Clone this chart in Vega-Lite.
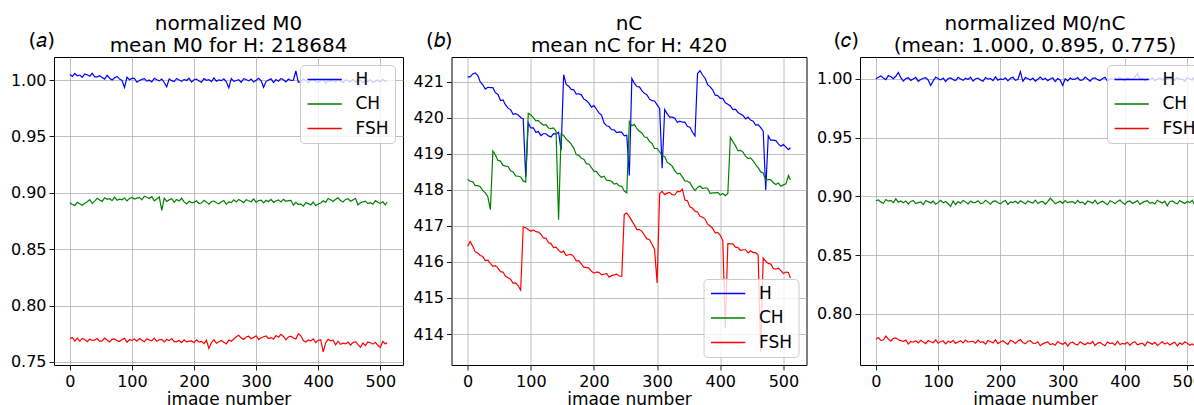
{
"$schema":"https://vega.github.io/schema/vega-lite/v6.json",
"padding":{"left":9,"top":13,"right":0,"bottom":0},
"background":"white",
"spacing":7.5,
"config":{
"font":"DejaVu Sans",
"view":{"stroke":"#000000","strokeWidth":1},
"axis":{"grid":true,"gridColor":"#b0b0b0","gridWidth":0.8,"domain":false,"ticks":true,"tickColor":"#000000","tickWidth":0.9,"tickSize":5,"labelFontSize":16,"labelColor":"#000000","labelPadding":3,"labelFlush":false,"labelOverlap":false,"titleFontSize":17,"titleFontWeight":"normal","titleColor":"#000000","titlePadding":2},
"legend":{"padding":6,"offset":8,"fillColor":"rgba(255,255,255,0.8)","strokeColor":"#cccccc","strokeWidth":1,"cornerRadius":4,"symbolType":"M-1,0H3.9","symbolSize":196,"symbolStrokeWidth":1.5,"labelFontSize":17,"labelColor":"#000000","labelOffset":32.5,"rowPadding":6.5,"labelLimit":0},
"title":{"fontSize":20,"fontWeight":"normal","lineHeight":22,"anchor":"middle","frame":"group","offset":-26,"color":"#000000"}
},
"resolve":{"scale":{"color":"independent"},"legend":{"color":"independent"}},
"datasets":{
"a":[
{"x":0,"H":1.0048,"CH":0.8912,"FSH":0.7707},{"x":4,"H":1.0032,"CH":0.8896,"FSH":0.7717},{"x":8,"H":1.0058,"CH":0.8888,"FSH":0.7685},{"x":12,"H":1.0038,"CH":0.8916,"FSH":0.7711},{"x":16,"H":1.0044,"CH":0.8902,"FSH":0.7685},{"x":20,"H":1.0024,"CH":0.8890,"FSH":0.7709},{"x":24,"H":1.0054,"CH":0.8908,"FSH":0.7697},{"x":28,"H":1.0046,"CH":0.8920,"FSH":0.7679},{"x":32,"H":1.0034,"CH":0.8940,"FSH":0.7703},{"x":36,"H":1.0060,"CH":0.8906,"FSH":0.7691},
{"x":40,"H":1.0028,"CH":0.8926,"FSH":0.7693},{"x":44,"H":1.0028,"CH":0.8952,"FSH":0.7707},{"x":48,"H":1.0038,"CH":0.8936,"FSH":0.7683},{"x":52,"H":1.0022,"CH":0.8924,"FSH":0.7687},{"x":56,"H":1.0008,"CH":0.8956,"FSH":0.7711},{"x":60,"H":1.0042,"CH":0.8942,"FSH":0.7695},{"x":64,"H":1.0016,"CH":0.8948,"FSH":0.7677},{"x":68,"H":1.0000,"CH":0.8930,"FSH":0.7701},{"x":72,"H":1.0020,"CH":0.8962,"FSH":0.7705},{"x":76,"H":1.0032,"CH":0.8934,"FSH":0.7689},
{"x":80,"H":1.0008,"CH":0.8944,"FSH":0.7681},{"x":84,"H":0.9996,"CH":0.8938,"FSH":0.7699},{"x":88,"H":0.9935,"CH":0.8954,"FSH":0.7709},{"x":92,"H":1.0024,"CH":0.8928,"FSH":0.7675},{"x":96,"H":1.0002,"CH":0.8950,"FSH":0.7697},{"x":100,"H":1.0014,"CH":0.8958,"FSH":0.7691},{"x":104,"H":1.0014,"CH":0.8945,"FSH":0.7703},{"x":108,"H":0.9980,"CH":0.8953,"FSH":0.7685},{"x":112,"H":0.9996,"CH":0.8959,"FSH":0.7707},{"x":116,"H":1.0006,"CH":0.8937,"FSH":0.7693},
{"x":120,"H":1.0012,"CH":0.8969,"FSH":0.7679},{"x":124,"H":0.9990,"CH":0.8961,"FSH":0.7705},{"x":128,"H":0.9998,"CH":0.8949,"FSH":0.7695},{"x":132,"H":0.9984,"CH":0.8965,"FSH":0.7687},{"x":136,"H":1.0016,"CH":0.8929,"FSH":0.7711},{"x":140,"H":1.0002,"CH":0.8945,"FSH":0.7683},{"x":144,"H":0.9992,"CH":0.8963,"FSH":0.7697},{"x":148,"H":1.0008,"CH":0.8845,"FSH":0.7701},{"x":152,"H":0.9978,"CH":0.8953,"FSH":0.7677},{"x":156,"H":0.9940,"CH":0.8923,"FSH":0.7699},
{"x":160,"H":1.0010,"CH":0.8937,"FSH":0.7689},{"x":164,"H":0.9994,"CH":0.8947,"FSH":0.7707},{"x":168,"H":0.9986,"CH":0.8915,"FSH":0.7681},{"x":172,"H":1.0014,"CH":0.8941,"FSH":0.7680},{"x":176,"H":1.0000,"CH":0.8927,"FSH":0.7690},{"x":180,"H":0.9988,"CH":0.8951,"FSH":0.7672},{"x":184,"H":1.0006,"CH":0.8919,"FSH":0.7696},{"x":188,"H":0.9996,"CH":0.8901,"FSH":0.7678},{"x":192,"H":1.0016,"CH":0.8925,"FSH":0.7684},{"x":196,"H":0.9982,"CH":0.8913,"FSH":0.7686},
{"x":200,"H":1.0002,"CH":0.8915,"FSH":0.7670},{"x":204,"H":1.0008,"CH":0.8929,"FSH":0.7696},{"x":208,"H":0.9992,"CH":0.8905,"FSH":0.7676},{"x":212,"H":0.9980,"CH":0.8909,"FSH":0.7682},{"x":216,"H":1.0012,"CH":0.8933,"FSH":0.7662},{"x":220,"H":0.9998,"CH":0.8917,"FSH":0.7692},{"x":224,"H":1.0004,"CH":0.8899,"FSH":0.7620},{"x":228,"H":0.9986,"CH":0.8923,"FSH":0.7672},{"x":232,"H":1.0018,"CH":0.8927,"FSH":0.7698},{"x":236,"H":0.9990,"CH":0.8911,"FSH":0.7666},
{"x":240,"H":1.0000,"CH":0.8903,"FSH":0.7680},{"x":244,"H":0.9994,"CH":0.8921,"FSH":0.7690},{"x":248,"H":1.0010,"CH":0.8931,"FSH":0.7674},{"x":252,"H":0.9984,"CH":0.8897,"FSH":0.7660},{"x":256,"H":0.9930,"CH":0.8919,"FSH":0.7694},{"x":260,"H":1.0014,"CH":0.8913,"FSH":0.7684},{"x":264,"H":0.9988,"CH":0.8937,"FSH":0.7704},{"x":268,"H":0.9996,"CH":0.8919,"FSH":0.7724},{"x":272,"H":1.0002,"CH":0.8941,"FSH":0.7736},{"x":276,"H":0.9980,"CH":0.8927,"FSH":0.7712},
{"x":280,"H":1.0012,"CH":0.8913,"FSH":0.7700},{"x":284,"H":1.0004,"CH":0.8939,"FSH":0.7722},{"x":288,"H":0.9992,"CH":0.8929,"FSH":0.7728},{"x":292,"H":1.0008,"CH":0.8921,"FSH":0.7706},{"x":296,"H":0.9982,"CH":0.8945,"FSH":0.7718},{"x":300,"H":0.9998,"CH":0.8917,"FSH":0.7732},{"x":304,"H":1.0016,"CH":0.8931,"FSH":0.7698},{"x":308,"H":0.9994,"CH":0.8935,"FSH":0.7714},{"x":312,"H":0.9935,"CH":0.8911,"FSH":0.7724},{"x":316,"H":0.9986,"CH":0.8933,"FSH":0.7730},
{"x":320,"H":1.0000,"CH":0.8923,"FSH":0.7708},{"x":324,"H":1.0010,"CH":0.8941,"FSH":0.7716},{"x":328,"H":0.9978,"CH":0.8915,"FSH":0.7702},{"x":332,"H":1.0004,"CH":0.8927,"FSH":0.7734},{"x":336,"H":0.9990,"CH":0.8937,"FSH":0.7720},{"x":340,"H":1.0014,"CH":0.8919,"FSH":0.7745},{"x":344,"H":1.0002,"CH":0.8943,"FSH":0.7726},{"x":348,"H":0.9984,"CH":0.8925,"FSH":0.7696},{"x":352,"H":1.0008,"CH":0.8931,"FSH":0.7722},{"x":356,"H":0.9996,"CH":0.8933,"FSH":0.7728},
{"x":360,"H":0.9998,"CH":0.8890,"FSH":0.7712},{"x":364,"H":1.0080,"CH":0.8916,"FSH":0.7704},{"x":368,"H":0.9980,"CH":0.8896,"FSH":0.7750},{"x":372,"H":0.9984,"CH":0.8902,"FSH":0.7732},{"x":376,"H":1.0008,"CH":0.8882,"FSH":0.7689},{"x":380,"H":0.9992,"CH":0.8912,"FSH":0.7677},{"x":384,"H":0.9974,"CH":0.8904,"FSH":0.7695},{"x":388,"H":0.9998,"CH":0.8892,"FSH":0.7685},{"x":392,"H":1.0002,"CH":0.8918,"FSH":0.7705},{"x":396,"H":0.9986,"CH":0.8886,"FSH":0.7671},
{"x":400,"H":0.9978,"CH":0.8900,"FSH":0.7691},{"x":404,"H":0.9996,"CH":0.8910,"FSH":0.7697},{"x":408,"H":1.0006,"CH":0.8929,"FSH":0.7590},{"x":412,"H":0.9972,"CH":0.8915,"FSH":0.7669},{"x":416,"H":0.9994,"CH":0.8949,"FSH":0.7701},{"x":420,"H":0.9988,"CH":0.8939,"FSH":0.7687},{"x":424,"H":1.0000,"CH":0.8923,"FSH":0.7693},{"x":428,"H":0.9982,"CH":0.8943,"FSH":0.7652},{"x":432,"H":1.0004,"CH":0.8955,"FSH":0.7684},{"x":436,"H":0.9990,"CH":0.8931,"FSH":0.7656},
{"x":440,"H":0.9976,"CH":0.8919,"FSH":0.7666},{"x":444,"H":1.0002,"CH":0.8941,"FSH":0.7660},{"x":448,"H":0.9992,"CH":0.8947,"FSH":0.7676},{"x":452,"H":0.9984,"CH":0.8925,"FSH":0.7650},{"x":456,"H":1.0008,"CH":0.8937,"FSH":0.7672},{"x":460,"H":0.9980,"CH":0.8951,"FSH":0.7680},{"x":464,"H":0.9994,"CH":0.8894,"FSH":0.7654},{"x":468,"H":0.9998,"CH":0.8910,"FSH":0.7630},{"x":472,"H":0.9974,"CH":0.8920,"FSH":0.7668},{"x":476,"H":0.9996,"CH":0.8926,"FSH":0.7646},
{"x":480,"H":0.9986,"CH":0.8904,"FSH":0.7678},{"x":484,"H":1.0004,"CH":0.8912,"FSH":0.7670},{"x":488,"H":0.9978,"CH":0.8898,"FSH":0.7658},{"x":492,"H":0.9990,"CH":0.8930,"FSH":0.7674},{"x":496,"H":1.0000,"CH":0.8916,"FSH":0.7648},{"x":500,"H":0.9982,"CH":0.8906,"FSH":0.7628},{"x":504,"H":1.0006,"CH":0.8922,"FSH":0.7682},{"x":508,"H":0.9988,"CH":0.8892,"FSH":0.7660},{"x":511,"H":0.9994,"CH":0.8918,"FSH":0.7672}
],
"b":[
{"x":0,"H":421.14,"CH":418.29,"FSH":416.44},{"x":4,"H":421.14,"CH":418.24,"FSH":416.57},{"x":8,"H":421.22,"CH":418.23,"FSH":416.44},{"x":12,"H":421.25,"CH":418.12,"FSH":416.28},{"x":16,"H":421.18,"CH":418.12,"FSH":416.25},{"x":20,"H":421.00,"CH":418.09,"FSH":416.18},{"x":24,"H":420.92,"CH":417.98,"FSH":416.15},{"x":28,"H":420.80,"CH":417.92,"FSH":416.04},{"x":32,"H":420.85,"CH":417.81,"FSH":416.05},{"x":36,"H":420.84,"CH":417.45,"FSH":415.96},
{"x":40,"H":420.84,"CH":419.08,"FSH":415.88},{"x":44,"H":420.70,"CH":418.97,"FSH":415.90},{"x":48,"H":420.65,"CH":418.82,"FSH":415.83},{"x":52,"H":420.48,"CH":418.80,"FSH":415.73},{"x":56,"H":420.50,"CH":418.68,"FSH":415.72},{"x":60,"H":420.36,"CH":418.66,"FSH":415.60},{"x":64,"H":420.27,"CH":418.65,"FSH":415.56},{"x":68,"H":420.23,"CH":418.53,"FSH":415.52},{"x":72,"H":420.10,"CH":418.50,"FSH":415.41},{"x":76,"H":420.12,"CH":418.39,"FSH":415.42},
{"x":80,"H":420.08,"CH":418.38,"FSH":415.34},{"x":84,"H":420.01,"CH":418.36,"FSH":415.22},{"x":88,"H":419.97,"CH":418.25,"FSH":416.97},{"x":92,"H":418.35,"CH":418.22,"FSH":416.95},{"x":96,"H":419.86,"CH":420.13,"FSH":416.90},{"x":100,"H":419.72,"CH":420.09,"FSH":416.85},{"x":104,"H":419.72,"CH":420.01,"FSH":416.89},{"x":108,"H":419.60,"CH":419.92,"FSH":416.84},{"x":112,"H":419.62,"CH":419.93,"FSH":416.83},{"x":116,"H":419.51,"CH":419.85,"FSH":416.77},
{"x":120,"H":419.56,"CH":419.80,"FSH":416.66},{"x":124,"H":419.56,"CH":419.81,"FSH":416.66},{"x":128,"H":419.50,"CH":419.72,"FSH":416.54},{"x":132,"H":419.47,"CH":419.70,"FSH":416.51},{"x":136,"H":419.56,"CH":419.72,"FSH":416.40},{"x":140,"H":419.55,"CH":419.63,"FSH":416.41},{"x":144,"H":419.60,"CH":417.17,"FSH":416.33},{"x":148,"H":419.10,"CH":419.55,"FSH":416.26},{"x":152,"H":421.20,"CH":419.51,"FSH":416.30},{"x":156,"H":420.93,"CH":419.41,"FSH":416.18},
{"x":160,"H":420.88,"CH":419.35,"FSH":416.20},{"x":164,"H":420.79,"CH":419.27,"FSH":416.21},{"x":168,"H":420.78,"CH":419.16,"FSH":416.15},{"x":172,"H":420.66,"CH":418.98,"FSH":416.03},{"x":176,"H":420.67,"CH":418.96,"FSH":416.04},{"x":180,"H":420.64,"CH":418.88,"FSH":415.95},{"x":184,"H":420.52,"CH":418.85,"FSH":415.85},{"x":188,"H":420.48,"CH":418.73,"FSH":415.85},{"x":192,"H":420.41,"CH":418.72,"FSH":415.83},{"x":196,"H":420.30,"CH":418.62,"FSH":415.74},
{"x":200,"H":420.34,"CH":418.52,"FSH":415.69},{"x":204,"H":420.24,"CH":418.51,"FSH":415.72},{"x":208,"H":420.14,"CH":418.41,"FSH":415.71},{"x":212,"H":420.08,"CH":418.35,"FSH":415.64},{"x":216,"H":419.86,"CH":418.38,"FSH":415.66},{"x":220,"H":419.78,"CH":418.27,"FSH":415.68},{"x":224,"H":419.76,"CH":418.26,"FSH":415.58},{"x":228,"H":419.67,"CH":418.24,"FSH":415.62},{"x":232,"H":419.67,"CH":418.16,"FSH":415.64},{"x":236,"H":419.59,"CH":418.18,"FSH":415.66},
{"x":240,"H":419.61,"CH":418.11,"FSH":415.61},{"x":244,"H":419.60,"CH":418.10,"FSH":415.60},{"x":248,"H":419.50,"CH":417.97,"FSH":417.32},{"x":252,"H":419.52,"CH":417.92,"FSH":417.36},{"x":256,"H":418.40,"CH":419.90,"FSH":417.26},{"x":260,"H":421.09,"CH":419.78,"FSH":417.14},{"x":264,"H":420.96,"CH":419.82,"FSH":417.03},{"x":268,"H":420.87,"CH":419.70,"FSH":416.90},{"x":272,"H":420.86,"CH":419.63,"FSH":416.90},{"x":276,"H":420.75,"CH":419.58,"FSH":416.85},
{"x":280,"H":420.68,"CH":419.47,"FSH":416.74},{"x":284,"H":420.64,"CH":419.46,"FSH":416.64},{"x":288,"H":420.52,"CH":419.34,"FSH":416.62},{"x":292,"H":420.48,"CH":419.29,"FSH":416.49},{"x":296,"H":420.47,"CH":419.15,"FSH":416.35},{"x":300,"H":420.36,"CH":419.15,"FSH":415.42},{"x":304,"H":420.26,"CH":419.06,"FSH":417.90},{"x":308,"H":418.60,"CH":418.95,"FSH":417.96},{"x":312,"H":420.23,"CH":418.93,"FSH":417.87},{"x":316,"H":420.11,"CH":418.77,"FSH":417.91},
{"x":320,"H":420.02,"CH":418.72,"FSH":417.93},{"x":324,"H":420.02,"CH":418.66,"FSH":417.87},{"x":328,"H":419.99,"CH":418.53,"FSH":417.86},{"x":332,"H":419.88,"CH":418.45,"FSH":417.96},{"x":336,"H":419.91,"CH":418.46,"FSH":417.95},{"x":340,"H":419.88,"CH":418.36,"FSH":418.02},{"x":344,"H":419.88,"CH":418.25,"FSH":417.72},{"x":348,"H":419.76,"CH":418.24,"FSH":417.70},{"x":352,"H":419.74,"CH":418.20,"FSH":417.53},{"x":356,"H":419.60,"CH":418.07,"FSH":417.49},
{"x":360,"H":419.50,"CH":417.98,"FSH":417.41},{"x":364,"H":421.23,"CH":418.07,"FSH":417.39},{"x":368,"H":421.31,"CH":418.11,"FSH":417.27},{"x":372,"H":421.19,"CH":418.04,"FSH":417.24},{"x":376,"H":421.10,"CH":418.06,"FSH":417.19},{"x":380,"H":420.92,"CH":418.04,"FSH":417.05},{"x":384,"H":420.86,"CH":417.90,"FSH":417.00},{"x":388,"H":420.78,"CH":417.92,"FSH":416.93},{"x":392,"H":420.63,"CH":417.92,"FSH":416.80},{"x":396,"H":420.62,"CH":417.93,"FSH":416.82},
{"x":400,"H":420.54,"CH":417.86,"FSH":416.74},{"x":404,"H":420.54,"CH":417.90,"FSH":416.60},{"x":408,"H":420.42,"CH":417.84,"FSH":414.16},{"x":412,"H":420.38,"CH":417.90,"FSH":416.51},{"x":416,"H":420.33,"CH":419.46,"FSH":416.50},{"x":420,"H":420.23,"CH":419.34,"FSH":416.50},{"x":424,"H":420.24,"CH":419.23,"FSH":416.41},{"x":428,"H":420.15,"CH":419.09,"FSH":416.40},{"x":432,"H":420.11,"CH":419.10,"FSH":416.32},{"x":436,"H":420.07,"CH":419.05,"FSH":416.34},
{"x":440,"H":419.97,"CH":418.94,"FSH":416.34},{"x":444,"H":420.02,"CH":418.87,"FSH":416.25},{"x":448,"H":419.94,"CH":418.89,"FSH":416.31},{"x":452,"H":419.91,"CH":418.81,"FSH":416.26},{"x":456,"H":419.80,"CH":418.70,"FSH":416.26},{"x":460,"H":419.81,"CH":418.62,"FSH":416.19},{"x":464,"H":419.73,"CH":418.50,"FSH":413.51},{"x":468,"H":419.63,"CH":418.47,"FSH":416.11},{"x":472,"H":418.00,"CH":418.26,"FSH":416.02},{"x":476,"H":419.50,"CH":418.29,"FSH":415.96},
{"x":480,"H":419.38,"CH":418.28,"FSH":415.94},{"x":484,"H":419.38,"CH":418.20,"FSH":415.82},{"x":488,"H":419.37,"CH":418.15,"FSH":415.80},{"x":492,"H":419.28,"CH":418.19,"FSH":415.83},{"x":496,"H":419.21,"CH":418.10,"FSH":415.76},{"x":500,"H":419.26,"CH":418.14,"FSH":415.68},{"x":504,"H":419.19,"CH":418.17,"FSH":415.72},{"x":508,"H":419.12,"CH":418.40,"FSH":415.71},{"x":511,"H":419.17,"CH":418.28,"FSH":415.55}
],
"c":[
{"x":0,"H":1.0001,"CH":0.8964,"FSH":0.7785},{"x":4,"H":1.0015,"CH":0.8970,"FSH":0.7799},{"x":8,"H":1.0025,"CH":0.8954,"FSH":0.7775},{"x":12,"H":1.0009,"CH":0.8942,"FSH":0.7779},{"x":16,"H":0.9995,"CH":0.8974,"FSH":0.7812},{"x":20,"H":1.0029,"CH":0.8960,"FSH":0.7787},{"x":24,"H":1.0019,"CH":0.8966,"FSH":0.7769},{"x":28,"H":1.0003,"CH":0.8948,"FSH":0.7793},{"x":32,"H":1.0023,"CH":0.8980,"FSH":0.7797},{"x":36,"H":1.0055,"CH":0.8952,"FSH":0.7781},
{"x":40,"H":1.0011,"CH":0.8962,"FSH":0.7773},{"x":44,"H":0.9982,"CH":0.8946,"FSH":0.7768},{"x":48,"H":1.0004,"CH":0.8962,"FSH":0.7778},{"x":52,"H":1.0010,"CH":0.8936,"FSH":0.7744},{"x":56,"H":0.9988,"CH":0.8958,"FSH":0.7766},{"x":60,"H":1.0000,"CH":0.8966,"FSH":0.7760},{"x":64,"H":1.0014,"CH":0.8940,"FSH":0.7772},{"x":68,"H":0.9980,"CH":0.8948,"FSH":0.7754},{"x":72,"H":0.9996,"CH":0.8954,"FSH":0.7776},{"x":76,"H":1.0006,"CH":0.8932,"FSH":0.7762},
{"x":80,"H":1.0012,"CH":0.8964,"FSH":0.7748},{"x":84,"H":0.9990,"CH":0.8956,"FSH":0.7774},{"x":88,"H":0.9945,"CH":0.8944,"FSH":0.7764},{"x":92,"H":0.9984,"CH":0.8960,"FSH":0.7756},{"x":96,"H":1.0016,"CH":0.8934,"FSH":0.7780},{"x":100,"H":1.0002,"CH":0.8950,"FSH":0.7752},{"x":104,"H":0.9992,"CH":0.8968,"FSH":0.7766},{"x":108,"H":1.0008,"CH":0.8946,"FSH":0.7770},{"x":112,"H":0.9978,"CH":0.8958,"FSH":0.7746},{"x":116,"H":1.0004,"CH":0.8938,"FSH":0.7768},
{"x":120,"H":1.0010,"CH":0.8915,"FSH":0.7758},{"x":124,"H":0.9994,"CH":0.8962,"FSH":0.7776},{"x":128,"H":0.9986,"CH":0.8930,"FSH":0.7750},{"x":132,"H":1.0014,"CH":0.8956,"FSH":0.7762},{"x":136,"H":1.0000,"CH":0.8942,"FSH":0.7772},{"x":140,"H":0.9988,"CH":0.8966,"FSH":0.7754},{"x":144,"H":1.0006,"CH":0.8954,"FSH":0.7778},{"x":148,"H":0.9996,"CH":0.8936,"FSH":0.7760},{"x":152,"H":1.0016,"CH":0.8960,"FSH":0.7766},{"x":156,"H":0.9982,"CH":0.8948,"FSH":0.7768},
{"x":160,"H":1.0002,"CH":0.8950,"FSH":0.7752},{"x":164,"H":1.0008,"CH":0.8964,"FSH":0.7778},{"x":168,"H":0.9992,"CH":0.8940,"FSH":0.7758},{"x":172,"H":0.9980,"CH":0.8944,"FSH":0.7764},{"x":176,"H":1.0012,"CH":0.8968,"FSH":0.7744},{"x":180,"H":0.9998,"CH":0.8952,"FSH":0.7774},{"x":184,"H":1.0004,"CH":0.8934,"FSH":0.7766},{"x":188,"H":0.9986,"CH":0.8958,"FSH":0.7754},{"x":192,"H":1.0018,"CH":0.8962,"FSH":0.7780},{"x":196,"H":0.9990,"CH":0.8946,"FSH":0.7748},
{"x":200,"H":1.0000,"CH":0.8938,"FSH":0.7762},{"x":204,"H":0.9994,"CH":0.8956,"FSH":0.7772},{"x":208,"H":1.0010,"CH":0.8966,"FSH":0.7756},{"x":212,"H":0.9984,"CH":0.8932,"FSH":0.7742},{"x":216,"H":1.0006,"CH":0.8954,"FSH":0.7776},{"x":220,"H":1.0014,"CH":0.8948,"FSH":0.7766},{"x":224,"H":0.9988,"CH":0.8960,"FSH":0.7750},{"x":228,"H":0.9996,"CH":0.8942,"FSH":0.7770},{"x":232,"H":1.0062,"CH":0.8964,"FSH":0.7782},{"x":236,"H":0.9980,"CH":0.8950,"FSH":0.7758},
{"x":240,"H":1.0012,"CH":0.8936,"FSH":0.7746},{"x":244,"H":1.0004,"CH":0.8962,"FSH":0.7768},{"x":248,"H":0.9992,"CH":0.8952,"FSH":0.7774},{"x":252,"H":1.0008,"CH":0.8944,"FSH":0.7752},{"x":256,"H":0.9982,"CH":0.8968,"FSH":0.7750},{"x":260,"H":0.9998,"CH":0.8940,"FSH":0.7764},{"x":264,"H":1.0016,"CH":0.8954,"FSH":0.7730},{"x":268,"H":0.9994,"CH":0.8958,"FSH":0.7746},{"x":272,"H":1.0006,"CH":0.8934,"FSH":0.7756},{"x":276,"H":0.9986,"CH":0.8956,"FSH":0.7762},
{"x":280,"H":1.0000,"CH":0.8985,"FSH":0.7740},{"x":284,"H":1.0010,"CH":0.8964,"FSH":0.7748},{"x":288,"H":0.9978,"CH":0.8938,"FSH":0.7734},{"x":292,"H":1.0004,"CH":0.8950,"FSH":0.7766},{"x":296,"H":0.9990,"CH":0.8960,"FSH":0.7752},{"x":300,"H":0.9945,"CH":0.8942,"FSH":0.7742},{"x":304,"H":1.0002,"CH":0.8966,"FSH":0.7758},{"x":308,"H":0.9984,"CH":0.8948,"FSH":0.7728},{"x":312,"H":1.0008,"CH":0.8954,"FSH":0.7754},{"x":316,"H":0.9996,"CH":0.8956,"FSH":0.7760},
{"x":320,"H":0.9998,"CH":0.8940,"FSH":0.7744},{"x":324,"H":1.0012,"CH":0.8966,"FSH":0.7736},{"x":328,"H":0.9988,"CH":0.8946,"FSH":0.7764},{"x":332,"H":0.9992,"CH":0.8952,"FSH":0.7750},{"x":336,"H":1.0016,"CH":0.8932,"FSH":0.7738},{"x":340,"H":1.0000,"CH":0.8962,"FSH":0.7756},{"x":344,"H":0.9982,"CH":0.8954,"FSH":0.7746},{"x":348,"H":1.0006,"CH":0.8942,"FSH":0.7766},{"x":352,"H":1.0010,"CH":0.8968,"FSH":0.7732},{"x":356,"H":0.9994,"CH":0.8936,"FSH":0.7752},
{"x":360,"H":0.9986,"CH":0.8950,"FSH":0.7758},{"x":364,"H":1.0004,"CH":0.8960,"FSH":0.7742},{"x":368,"H":1.0014,"CH":0.8944,"FSH":0.7730},{"x":372,"H":0.9980,"CH":0.8930,"FSH":0.7762},{"x":376,"H":1.0002,"CH":0.8964,"FSH":0.7748},{"x":380,"H":0.9996,"CH":0.8954,"FSH":0.7754},{"x":384,"H":1.0008,"CH":0.8938,"FSH":0.7736},{"x":388,"H":0.9990,"CH":0.8958,"FSH":0.7768},{"x":392,"H":1.0012,"CH":0.8970,"FSH":0.7740},{"x":396,"H":0.9998,"CH":0.8946,"FSH":0.7750},
{"x":400,"H":0.9984,"CH":0.8934,"FSH":0.7744},{"x":404,"H":1.0010,"CH":0.8956,"FSH":0.7760},{"x":408,"H":1.0000,"CH":0.8962,"FSH":0.7734},{"x":412,"H":0.9992,"CH":0.8940,"FSH":0.7756},{"x":416,"H":1.0016,"CH":0.8952,"FSH":0.7764},{"x":420,"H":1.0045,"CH":0.8966,"FSH":0.7738},{"x":424,"H":1.0002,"CH":0.8932,"FSH":0.7746},{"x":428,"H":1.0006,"CH":0.8948,"FSH":0.7752},{"x":432,"H":0.9982,"CH":0.8958,"FSH":0.7730},{"x":436,"H":1.0004,"CH":0.8964,"FSH":0.7762},
{"x":440,"H":0.9994,"CH":0.8942,"FSH":0.7754},{"x":444,"H":1.0012,"CH":0.8950,"FSH":0.7742},{"x":448,"H":0.9986,"CH":0.8936,"FSH":0.7758},{"x":452,"H":0.9998,"CH":0.8968,"FSH":0.7732},{"x":456,"H":1.0008,"CH":0.8954,"FSH":0.7748},{"x":460,"H":0.9990,"CH":0.8944,"FSH":0.7766},{"x":464,"H":1.0014,"CH":0.8960,"FSH":0.7744},{"x":468,"H":0.9996,"CH":0.8920,"FSH":0.7756},{"x":472,"H":1.0002,"CH":0.8956,"FSH":0.7736},{"x":476,"H":1.0004,"CH":0.8962,"FSH":0.7750},
{"x":480,"H":0.9988,"CH":0.8946,"FSH":0.7760},{"x":484,"H":1.0014,"CH":0.8938,"FSH":0.7728},{"x":488,"H":0.9994,"CH":0.8966,"FSH":0.7754},{"x":492,"H":1.0000,"CH":0.8952,"FSH":0.7740},{"x":496,"H":0.9980,"CH":0.8940,"FSH":0.7764},{"x":500,"H":1.0010,"CH":0.8958,"FSH":0.7752},{"x":504,"H":1.0002,"CH":0.8948,"FSH":0.7734},{"x":508,"H":0.9990,"CH":0.8968,"FSH":0.7745},{"x":511,"H":1.0016,"CH":0.8934,"FSH":0.7733}
]
},
"hconcat":[
{
"width":349,"height":308,
"data":{"name":"a"},
"transform":[{"fold":["H","CH","FSH"],"as":["s","v"]}],
"title":{"text":["normalized M0","mean M0 for H: 218684"]},
"mark":{"type":"line","strokeWidth":1.2,"clip":true},
"encoding":{
"x":{"field":"x","type":"quantitative","scale":{"domain":[-25.55,536.55],"nice":false,"zero":false},"axis":{"values":[0,100,200,300,400,500],"title":"image number"}},
"y":{"field":"v","type":"quantitative","scale":{"domain":[0.7473,1.0204],"nice":false,"zero":false},"axis":{"values":[0.75,0.8,0.85,0.9,0.95,1.0],"format":".2f","title":"(𝑎)","titleAngle":0,"titleX":-26,"titleY":-11,"titleAlign":"left","titleBaseline":"alphabetic","titleFontSize":20}},
"color":{"field":"s","type":"nominal","scale":{"domain":["H","CH","FSH"],"range":["#0000ff","#008000","#ff0000"]},"legend":{"title":null,"orient":"top-right"}}
}
},
{
"width":355,"height":308,
"data":{"name":"b"},
"transform":[{"fold":["H","CH","FSH"],"as":["s","v"]}],
"title":{"text":["nC","mean nC for H: 420"]},
"mark":{"type":"line","strokeWidth":1.2,"clip":true},
"encoding":{
"x":{"field":"x","type":"quantitative","scale":{"domain":[-25.55,536.55],"nice":false,"zero":false},"axis":{"values":[0,100,200,300,400,500],"title":"image number"}},
"y":{"field":"v","type":"quantitative","scale":{"domain":[413.14,421.69],"nice":false,"zero":false},"axis":{"values":[414,415,416,417,418,419,420,421],"format":"d","title":"(𝑏)","titleAngle":0,"titleX":-26,"titleY":-11,"titleAlign":"left","titleBaseline":"alphabetic","titleFontSize":20}},
"color":{"field":"s","type":"nominal","scale":{"domain":["H","CH","FSH"],"range":["#0000ff","#008000","#ff0000"]},"legend":{"title":null,"orient":"bottom-right"}}
}
},
{
"width":350,"height":308,
"data":{"name":"c"},
"transform":[{"fold":["H","CH","FSH"],"as":["s","v"]}],
"title":{"text":["normalized M0/nC","(mean: 1.000, 0.895, 0.775)"]},
"mark":{"type":"line","strokeWidth":1.2,"clip":true},
"encoding":{
"x":{"field":"x","type":"quantitative","scale":{"domain":[-25.55,536.55],"nice":false,"zero":false},"axis":{"values":[0,100,200,300,400,500],"title":"image number"}},
"y":{"field":"v","type":"quantitative","scale":{"domain":[0.7566,1.0187],"nice":false,"zero":false},"axis":{"values":[0.8,0.85,0.9,0.95,1.0],"format":".2f","title":"(𝑐)","titleAngle":0,"titleX":-27,"titleY":-11,"titleAlign":"left","titleBaseline":"alphabetic","titleFontSize":20}},
"color":{"field":"s","type":"nominal","scale":{"domain":["H","CH","FSH"],"range":["#0000ff","#008000","#ff0000"]},"legend":{"title":null,"orient":"top-right"}}
}
}
]
}
